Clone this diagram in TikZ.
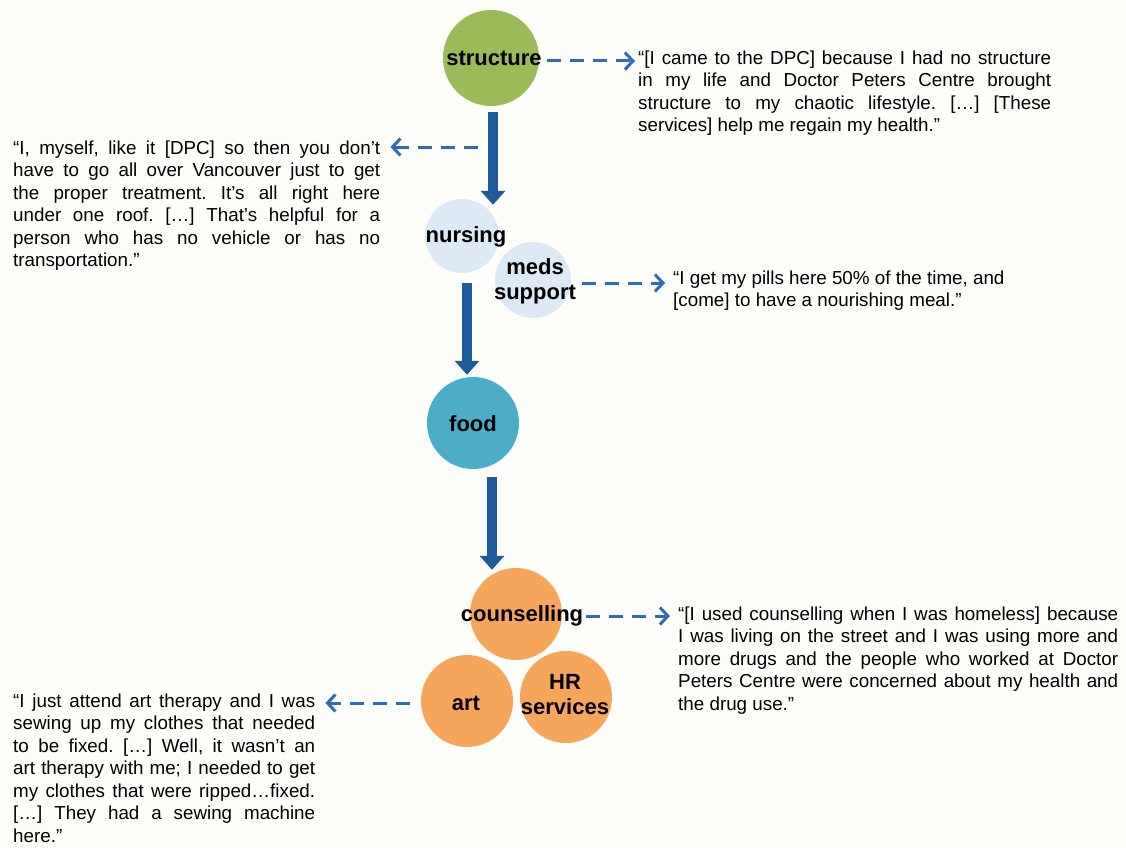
\documentclass[tikz,border=0pt]{standalone}
\usepackage{fontspec}
\setmainfont{Liberation Sans}
\usetikzlibrary{arrows.meta,calc}
\definecolor{bgc}{HTML}{FDFDF9}
\definecolor{greenc}{HTML}{9BBB59}
\definecolor{lblue}{HTML}{DDEAF6}
\definecolor{tealc}{HTML}{4BADC8}
\definecolor{orangec}{HTML}{F5A65B}
\definecolor{darkblue}{HTML}{1F5A9A}
\definecolor{dashblue}{HTML}{2E6DB4}
\newcommand{\fst}{\rule{0pt}{15pt}}
\newcommand{\qfont}{\fontsize{18.8}{22.5}\selectfont\frenchspacing\spaceskip=0.278em plus 3em minus 0.05em\relax\parindent=0pt\hyphenpenalty=10000\relax}
\tikzset{
  bubble/.style={circle, inner sep=0pt, minimum size=#1},
  lbl/.style={inner sep=0pt, align=center, font=\bfseries\fontsize{22}{25}\selectfont},
  quote/.style={inner sep=0pt, anchor=north west, font=\qfont},
  bigarrow/.style={draw=darkblue, line width=10pt, -{Triangle[width=24pt,length=14pt]}, darkblue},
  dasharrow/.style={draw=dashblue, line width=3pt, dash pattern=on 14pt off 9pt, -{Straight Barb[length=8pt,width=17pt]}}
}
\begin{document}
\begin{tikzpicture}[x=1pt,y=-1pt]
\fill[bgc] (0,0) rectangle (1126,848);
\useasboundingbox (0,0) rectangle (1126,848);

% circles
\node[bubble=96pt, fill=greenc] (structure) at (491,58) {};
\node[bubble=74pt, fill=lblue] (nursing) at (462,236) {};
\node[bubble=76pt, fill=lblue] (meds) at (533,280) {};
\node[bubble=92pt, fill=tealc] (food) at (473,423) {};
\node[bubble=92pt, fill=orangec] (counselling) at (516,614) {};
\node[bubble=92pt, fill=orangec] (art) at (467,701) {};
\node[bubble=92pt, fill=orangec] (hr) at (566,697) {};

% labels
\node[lbl] (tstructure) at (494,58) {structure};
\node[lbl] (tnursing) at (466,237) {nursing};
\node[lbl] (tmeds) at (535,281) {meds\\support};
\node[lbl] (tfood) at (473,424) {food};
\node[lbl] (tcoun) at (522,616) {counselling};
\node[lbl] (tart) at (466,703) {art};
\node[lbl] (thr) at (565,695) {HR\\services};

% quotes
\node[quote, text width=413pt, align=justify] (q1) at (638,49) {\fst“[I came to the DPC] because I had no structure\linebreak
in my life and Doctor Peters Centre brought\linebreak
structure to my chaotic lifestyle. […] [These\linebreak
services] help me regain my health.”};

\node[quote, text width=367pt, align=justify] (q2) at (13,139) {\fst“I, myself, like it [DPC] so then you don’t\linebreak
have to go all over Vancouver just to get\linebreak
the proper treatment. It’s all right here\linebreak
under one roof. […] That’s helpful for a\linebreak
person who has no vehicle or has no\linebreak
transportation.”};

\node[quote, align=left] (q3) at (673,269) {\fst“I get my pills here 50\% of the time, and\\
{[}come{]} to have a nourishing meal.”};

\node[quote, text width=440pt, align=justify] (q4) at (678,605) {\fst“[I used counselling when I was homeless] because\linebreak
I was living on the street and I was using more and\linebreak
more drugs and the people who worked at Doctor\linebreak
Peters Centre were concerned about my health and\linebreak
the drug use.”};

\node[quote, text width=302pt, align=justify] (q5) at (13,692) {\fst“I just attend art therapy and I was\linebreak
sewing up my clothes that needed\linebreak
to be fixed. […] Well, it wasn’t an\linebreak
art therapy with me; I needed to get\linebreak
my clothes that were ripped…fixed.\linebreak
{[}…{]} They had a sewing machine\linebreak
here.”};

% thick arrows
\draw[bigarrow] ($(structure.south)+(2,6)$) -- ($(structure.south |- nursing.north)+(2,6)$);
\draw[bigarrow] ($(nursing.south)+(5,10)$) -- ($(food.north)+(-6,-2)$);
\draw[bigarrow] ($(food.south)+(19,8)$) -- ($(counselling.north)+(-24,2)$);

% dashed arrows
\coordinate (d2s) at (478,147);
\draw[dasharrow, shorten <=5pt, shorten >=3pt] ($(tstructure.east)+(0,3)$) -- ($(tstructure.east -| q1.west)+(0,3)$);
\draw[dasharrow, shorten >=10pt] (d2s) -- (d2s -| q2.east);
\draw[dasharrow, shorten <=6pt, shorten >=8pt] ($(tmeds.east)+(0,2)$) -- ($(tmeds.east -| q3.west)+(0,2)$);
\draw[dasharrow, shorten <=3pt, shorten >=8pt] (tcoun.east) -- (tcoun.east -| q4.west);
\draw[dasharrow, shorten <=11pt, shorten >=10pt] ($(art.west)+(0,2)$) -- ($(art.west -| q5.east)+(0,2)$);
\end{tikzpicture}
\end{document}
